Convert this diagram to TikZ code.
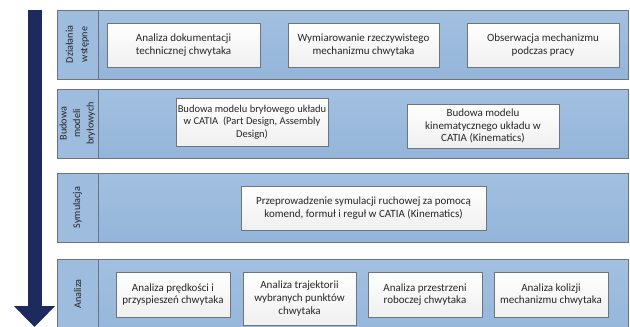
\documentclass[tikz,border=0pt]{standalone}
\usepackage{fontspec}
\setmainfont{Carlito}
\usepackage{xcolor}
\usetikzlibrary{arrows.meta}

\definecolor{bandblue}{HTML}{A2C0E0}
\definecolor{bandblueD}{HTML}{94B5DA}
\definecolor{cellblue}{HTML}{9DBCDE}
\definecolor{framegray}{HTML}{6E747C}
\definecolor{flownavy}{HTML}{1C2A5E}

\begin{document}
\begin{tikzpicture}[x=1pt, y=-1pt,
    every node/.style={font=\fontsize{11}{12.6}\selectfont, text=black!85},
    band/.style={draw=framegray, line width=0.8pt, top color=bandblue, bottom color=bandblueD},
    bandcell/.style={draw=framegray, line width=0.8pt, fill=cellblue},
    celltext/.style={rotate=90, align=center, font=\fontsize{10.2}{12}\selectfont},
    stepbox/.style={draw=framegray, line width=0.7pt, top color=white, bottom color=black!6, align=center, inner sep=1pt, minimum height=44pt}]
  \clip (0,0) rectangle (630,327);
  \fill[white] (0,0) rectangle (630,327);
  % flow arrow
  \coordinate (flowtop) at (34.5,10);
  \coordinate (flowend) at (34.5,327);
  \draw[flownavy, line width=14pt, -{Triangle[width=40pt, length=21pt]}] (flowtop) -- (flowend);
  % bands
  \draw[band] (57,10) rectangle (628,79);
  \draw[bandcell] (57,10) rectangle (98,79);
  \draw[band] (57,89) rectangle (628,158);
  \draw[bandcell] (57,89) rectangle (98,158);
  \draw[band] (57,173) rectangle (628,242);
  \draw[bandcell] (57,173) rectangle (98,242);
  \draw[band] (57,259) rectangle (628,340);
  \draw[bandcell] (57,259) rectangle (98,340);
  \node[celltext] (prep) at (77.5,44.5) {Działania\\[2.5pt]wstępne};
  \node[celltext] (solid) at (77.5,123.5) {Budowa\\[1.5pt]modeli\\[1.5pt]bryłowych};
  \node[celltext] (sim) at (77.5,207.5) {Symulacja};
  \node[celltext] (anal) at (77.5,294) {Analiza};
  % steps
  \node[stepbox, minimum width=153pt] (docs) at (183.5,45) {Analiza dokumentacji\\technicznej chwytaka};
  \node[stepbox, minimum width=151pt] (measure) at (363.5,45) {Wymiarowanie rzeczywistego\\mechanizmu chwytaka};
  \node[stepbox, minimum width=152pt] (observe) at (543,45) {Obserwacja mechanizmu\\podczas pracy};
  \node[stepbox, minimum width=152pt, minimum height=48pt, font=\fontsize{10.5}{12.6}\selectfont] (solidmodel) at (252,122) {Budowa modelu bryłowego układu\\w CATIA\ \ (Part Design, Assembly\\Design)};
  \node[stepbox, minimum width=152pt] (kinmodel) at (483,126) {Budowa modelu\\kinematycznego układu w\\CATIA (Kinematics)};
  \node[stepbox, minimum width=245pt] (motion) at (363.5,208) {Przeprowadzenie symulacji ruchowej za pomocą\\komend, formuł i reguł w CATIA (Kinematics)};
  \node[stepbox, minimum width=114pt, minimum height=45pt] (speed) at (173,294.5) {Analiza prędkości i\\przyspieszeń chwytaka};
  \node[stepbox, minimum width=113pt, minimum height=53pt] (path) at (299.5,298.5) {Analiza trajektorii\\wybranych punktów\\chwytaka};
  \node[stepbox, minimum width=114pt, minimum height=45pt] (space) at (425,294.5) {Analiza przestrzeni\\roboczej chwytaka};
  \node[stepbox, minimum width=114pt, minimum height=45pt] (collide) at (551,294.5) {Analiza kolizji\\mechanizmu chwytaka};
\end{tikzpicture}
\end{document}
